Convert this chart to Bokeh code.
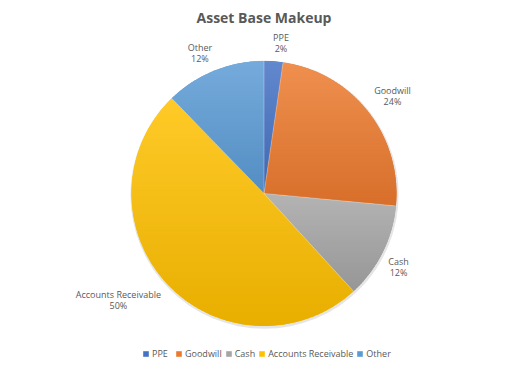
import numpy as np
from bokeh.plotting import figure
from bokeh.models import Range1d, ColumnDataSource, Legend, LegendItem
from bokeh.core.properties import value
from bokeh.embed import file_html
from bokeh.resources import INLINE

categories = ["PPE", "Goodwill", "Cash", "Accounts Receivable", "Other"]
shares = [2.3, 24.2, 11.7, 49.55, 12.25]
pct_labels = ["2%", "24%", "12%", "50%", "12%"]
colors = ["#4472C4", "#EC7A2E", "#A5A5A5", "#FFC000", "#5B9BD5"]

W, H = 509, 376
CX, CY = 263.5, H - 193.0
R = 132.5
FONT = "Open Sans"
TXT = "#595959"

frac = np.array(shares) / np.sum(shares)
cum_end = np.cumsum(frac)
cum_start = cum_end - frac
start = np.pi / 2 - 2 * np.pi * cum_start
end = np.pi / 2 - 2 * np.pi * cum_end

src = ColumnDataSource(dict(x=[CX] * 5, y=[CY] * 5, start=start, end=end,
                            color=colors, cat=categories))

p = figure(width=W, height=H, x_range=Range1d(0, W), y_range=Range1d(0, H),
           output_backend="svg", toolbar_location=None, min_border=0)
p.axis.visible = False
p.grid.visible = False
p.outline_line_color = None
p.background_fill_color = "white"
p.border_fill_color = "white"

# soft shadow
p.circle(x=[CX + 0.5], y=[CY - 1.2], radius=R + 1.6, fill_color="#000000",
         fill_alpha=0.10, line_color=None)

wr = p.wedge(x="x", y="y", radius=R, start_angle="start", end_angle="end",
             direction="clock", fill_color="color", line_color=None,
             source=src)


# vertical gradient shading per slice (lighter top, darker bottom)
def hex2rgb(h):
    h = h.lstrip("#")
    return np.array([int(h[i:i + 2], 16) for i in (0, 2, 4)], dtype=float)


def rgb2hex(c):
    c = np.clip(np.round(c), 0, 255).astype(int)
    return "#%02x%02x%02x" % tuple(c)


def clip(poly, yv, keep_above):
    out = []
    n = len(poly)
    for k in range(n):
        a = poly[k]
        b = poly[(k + 1) % n]
        ina = (a[1] >= yv) if keep_above else (a[1] <= yv)
        inb = (b[1] >= yv) if keep_above else (b[1] <= yv)
        if ina:
            out.append(a)
        if ina != inb:
            t = (yv - a[1]) / (b[1] - a[1])
            out.append((a[0] + t * (b[0] - a[0]), yv))
    return out


gx, gy, gc = [], [], []
for i in range(len(categories)):
    th = np.linspace(start[i], end[i], max(8, int(abs(end[i] - start[i]) * 60)))
    poly = [(CX, CY)] + [(CX + R * np.cos(t), CY + R * np.sin(t)) for t in th]
    ys = [q[1] for q in poly]
    top, bot = max(ys), min(ys)
    base = hex2rgb(colors[i])
    light = base + (255 - base) * 0.16
    dark = base * 0.91
    nb = max(2, int((top - bot) / 2))
    edges = np.linspace(bot, top, nb + 1)
    for k in range(nb):
        y0, y1 = edges[k] - 0.35, edges[k + 1] + 0.35
        pc = clip(clip(poly, y0, True), y1, False)
        if len(pc) < 3:
            continue
        f = ((edges[k] + edges[k + 1]) / 2 - bot) / (top - bot)
        col = dark + (light - dark) * f
        gx.append([q[0] for q in pc])
        gy.append([q[1] for q in pc])
        gc.append(rgb2hex(col))
p.patches(xs=gx, ys=gy, fill_color=gc, line_color=None)

# thin separators between slices
sep_x = [[CX, CX + R * np.cos(a)] for a in start]
sep_y = [[CY, CY + R * np.sin(a)] for a in start]
p.multi_line(xs=sep_x, ys=sep_y, line_color="white", line_width=0.5, line_alpha=0.6)

# data labels (outside end)
mid = 2 * np.pi * (cum_start + cum_end) / 2
LR = 140
lx, ly1, ly2 = [], [], []
for i, c in enumerate(categories):
    s, co = np.sin(mid[i]), np.cos(mid[i])
    px = CX + LR * s
    py = CY + LR * co
    w = len(c) * 4.6
    bx = px + np.sign(s) * w / 2
    by = py + np.sign(co) * 11
    lx.append(bx)
    ly1.append(by + 5.5)
    ly2.append(by - 5.5)
p.text(x=lx, y=ly1, text=categories, text_align="center", text_baseline="middle",
       text_font=value(FONT), text_font_size="9px", text_color=TXT)
p.text(x=lx, y=ly2, text=pct_labels, text_align="center", text_baseline="middle",
       text_font=value(FONT), text_font_size="9px", text_color=TXT)

# title
p.text(x=[W / 2 + 9], y=[H - 17], text=["Asset Base Makeup"], text_align="center",
       text_baseline="middle", text_font=value(FONT), text_font_size="14px",
       text_font_style="bold", text_color=TXT)

items = [LegendItem(label=c, renderers=[wr], index=i) for i, c in enumerate(categories)]
legend = Legend(items=items, orientation="horizontal", location=(142, 16),
                padding=0, margin=0, spacing=3, label_standoff=3,
                glyph_width=7, glyph_height=7, label_height=10,
                label_text_font=FONT, label_text_font_size="9px",
                label_text_color=TXT, border_line_color=None,
                background_fill_alpha=0)
p.add_layout(legend)

open("out.html", "w").write(file_html(p, INLINE))
